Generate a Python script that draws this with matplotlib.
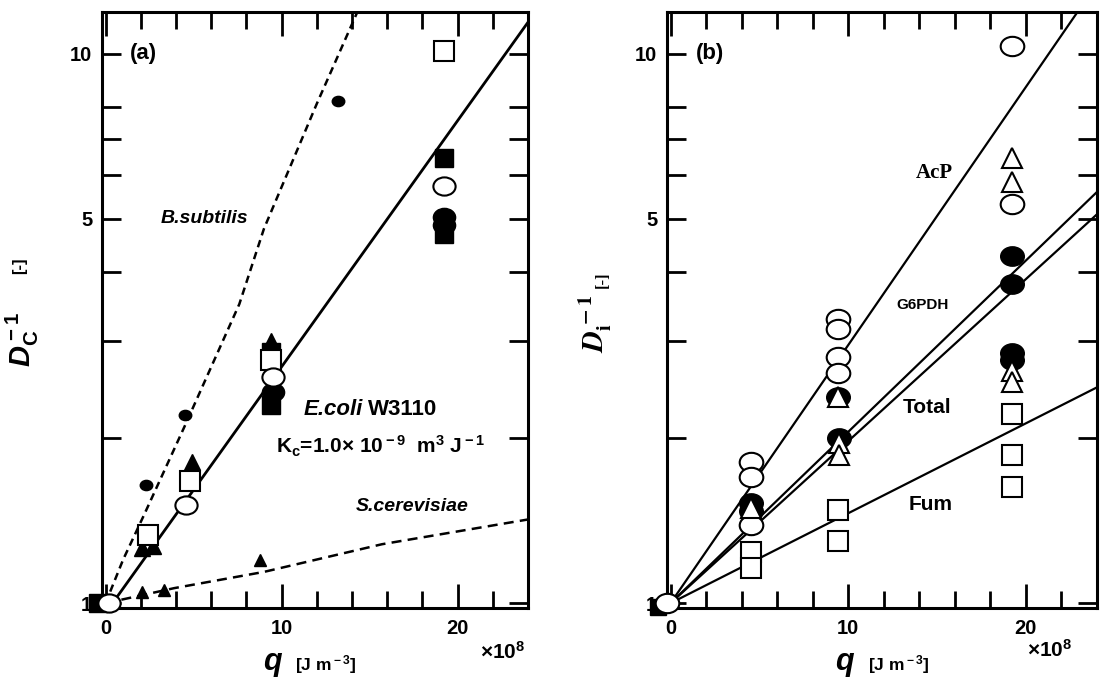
import numpy as np
import matplotlib
matplotlib.use("Agg")
import matplotlib.pyplot as plt
from matplotlib.path import Path
from matplotlib.ticker import FixedLocator, NullFormatter

plt.rcParams['font.family'] = ['Liberation Sans', 'DejaVu Sans']
plt.rcParams['font.weight'] = 'bold'
plt.rcParams['mathtext.fontset'] = 'custom'
plt.rcParams['mathtext.rm'] = 'Liberation Sans:bold'
plt.rcParams['mathtext.it'] = 'Liberation Sans:italic:bold'
plt.rcParams['mathtext.bf'] = 'Liberation Sans:bold'

# ---------------- panel (a) data : q [x1e8 J m-3], Dc^-1 ----------------
a_fsq_x = [-0.4, 9.4, 9.4, 19.2, 19.2]
a_fsq_y = [1.0, 2.87, 2.29, 6.46, 4.70]
a_osq_x = [2.4, 4.8, 9.4, 19.2]
a_osq_y = [1.33, 1.67, 2.77, 10.1]
a_oci_x = [0.2, 4.6, 9.5, 19.2]
a_oci_y = [1.0, 1.51, 2.58, 5.74]
a_fci_x = [9.5, 19.2, 19.2]
a_fci_y = [2.42, 5.05, 4.88]
a_ftr_x = [2.1, 2.7, 4.9, 9.4]
a_ftr_y = [1.26, 1.27, 1.81, 3.0]
bsub_x = [2.3, 4.5, 13.2]
bsub_y = [1.64, 2.2, 8.2]
scer_x = [2.1, 3.3, 8.8]
scer_y = [1.05, 1.055, 1.2]

ecoli_line_x = [0.4, 24.0]
ecoli_line_y = [1.0, 11.4]
bsub_line_x = [0.0, 1.0, 2.2, 4.5, 7.6, 9.0, 12.0, 14.6]
bsub_line_y = [1.0, 1.2, 1.45, 2.1, 3.5, 4.8, 8.1, 12.5]
scer_line_x = [0.0, 3.9, 9.0, 15.7, 24.0]
scer_line_y = [1.0, 1.065, 1.14, 1.28, 1.42]

# ---------------- panel (b) data : q, Di^-1 ----------------
b_oci_x = [-0.2, 4.55, 4.55, 4.55, 9.4, 9.4, 9.4, 9.4, 19.2, 19.2]
b_oci_y = [1.0, 1.81, 1.70, 1.39, 3.29, 3.15, 2.80, 2.62, 10.3, 5.33]
b_fci_x = [4.55, 4.55, 9.4, 9.5, 19.2, 19.2, 19.2, 19.2]
b_fci_y = [1.52, 1.47, 2.37, 2.0, 4.29, 3.81, 2.85, 2.77]
b_otr_x = [4.55, 9.4, 9.5, 9.5, 19.2, 19.2, 19.2, 19.2]
b_otr_y = [1.49, 2.37, 1.96, 1.86, 6.45, 5.84, 2.65, 2.53]
b_osq_x = [4.55, 4.55, 9.4, 9.4, 19.2, 19.2, 19.2]
b_osq_y = [1.24, 1.157, 1.48, 1.30, 2.21, 1.86, 1.63]
b_fsq_x = [-0.7]
b_fsq_y = [0.985]

acp_x, acp_y = [0.0, 24.0], [1.0, 13.4]
g6p_x, g6p_y = [0.0, 24.0], [1.0, 5.6]
tot_x, tot_y = [0.0, 24.0], [1.0, 5.1]
fum_x, fum_y = [0.0, 24.0], [1.0, 2.47]

# ellipse marker (circles in the scan are slightly wider than tall)
uc = Path.unit_circle()
ell = Path(uc.vertices * [1.22, 1.0], uc.codes)

W, H = 1111, 683
fig = plt.figure(figsize=(W / 100, H / 100), dpi=100)
ax1 = fig.add_axes([102 / W, 75 / H, 426 / W, 596 / H])
ax2 = fig.add_axes([667 / W, 75 / H, 430 / W, 596 / H])


def style_axes(ax):
    ax.set_yscale('log')
    ax.set_xlim(-0.2, 24)
    ax.set_ylim(0.98, 11.9)
    ax.xaxis.set_major_locator(FixedLocator([0, 10, 20]))
    ax.xaxis.set_minor_locator(FixedLocator([2, 4, 6, 8, 12, 14, 16, 18, 22]))
    ax.set_xticklabels(['0', '10', '20'])
    ax.yaxis.set_major_locator(FixedLocator([1, 5, 10]))
    ax.yaxis.set_minor_locator(FixedLocator([2, 3, 4, 6, 7, 8]))
    ax.yaxis.set_major_formatter(plt.FixedFormatter(['1', '5', '10']))
    ax.yaxis.set_minor_formatter(NullFormatter())
    ax.tick_params(which='both', direction='in', top=True, right=True,
                   width=2.0, labelsize=14.5)
    ax.tick_params(axis='x', which='major', length=17, pad=8)
    ax.tick_params(axis='x', which='minor', length=12)
    ax.tick_params(axis='y', which='both', length=14, pad=7)
    for s in ax.spines.values():
        s.set_linewidth(2.2)
    for lab in ax.get_xticklabels() + ax.get_yticklabels():
        lab.set_fontweight('bold')


style_axes(ax1)
style_axes(ax2)

kw_open = dict(linestyle='none', mfc='white', mec='black', mew=1.5, clip_on=False, zorder=4)
kw_fill = dict(linestyle='none', mfc='black', mec='black', mew=1.0, clip_on=False, zorder=3)

# ---- panel (a)
ax1.plot(ecoli_line_x, ecoli_line_y, color='black', lw=2.0, zorder=2)
ax1.plot(bsub_line_x, bsub_line_y, color='black', lw=1.8, ls=(0, (3, 2)), zorder=2)
ax1.plot(scer_line_x, scer_line_y, color='black', lw=1.8, ls=(0, (4, 2.5)), zorder=2)

ax1.plot(a_fsq_x, a_fsq_y, marker='s', ms=13, **kw_fill)
ax1.plot(a_fci_x, a_fci_y, marker=ell, ms=16, **kw_fill)
ax1.plot(a_ftr_x, a_ftr_y, marker='^', ms=12, **kw_fill)
ax1.plot(bsub_x, bsub_y, marker=ell, ms=9, **kw_fill)
ax1.plot(scer_x, scer_y, marker='^', ms=8, **kw_fill)
ax1.plot(a_osq_x, a_osq_y, marker='s', ms=14, **kw_open)
ax1.plot(a_oci_x, a_oci_y, marker=ell, ms=16, **kw_open)

ax1.text(1.4, 10.0, '(a)', fontsize=16, fontweight='bold', ha='left', va='center')
ax1.text(5.6, 5.0, 'B.subtilis', fontsize=14, fontweight='bold', style='italic',
         ha='center', va='center')
ax1.text(14.6, 2.25, 'E.coli', fontsize=16, fontweight='bold', style='italic',
         ha='right', va='center')
ax1.text(14.9, 2.25, 'W3110', fontsize=16, fontweight='bold', ha='left', va='center')
ax1.text(15.6, 1.93, r'K$_{\rm c}$=1.0$\times$ 10$^{\rm -9}$  m$^{\rm 3}$ J$^{\rm -1}$',
         fontsize=15, ha='center', va='center')
ax1.text(17.4, 1.5, 'S.cerevisiae', fontsize=14, fontweight='bold', style='italic',
         ha='center', va='center')

# ---- panel (b)
for lx, ly in [(acp_x, acp_y), (g6p_x, g6p_y), (tot_x, tot_y), (fum_x, fum_y)]:
    ax2.plot(lx, ly, color='black', lw=1.6, zorder=2)

ax2.plot(b_fsq_x, b_fsq_y, marker='s', ms=11, **kw_fill)
ax2.plot(b_fci_x, b_fci_y, marker=ell, ms=17, **kw_fill)
ax2.plot(b_osq_x, b_osq_y, marker='s', ms=15, **kw_open)
ax2.plot(b_oci_x, b_oci_y, marker=ell, ms=17, **kw_open)
ax2.plot(b_otr_x, b_otr_y, marker='^', ms=14, **kw_open)

ax2.text(1.4, 10.0, '(b)', fontsize=16, fontweight='bold', ha='left', va='center')
ax2.text(14.85, 6.06, 'AcP', fontsize=15, fontweight='bold', family='Liberation Serif',
         ha='center', va='center')
ax2.text(14.2, 3.48, 'G6PDH', fontsize=11, fontweight='bold', ha='center', va='center')
ax2.text(14.45, 2.27, 'Total', fontsize=15, fontweight='bold', ha='center', va='center')
ax2.text(14.65, 1.51, 'Fum', fontsize=15, fontweight='bold', ha='center', va='center')

# ---- axis titles (placed in figure pixels)
def ftxt(px, py, s, **kw):
    fig.text(px / W, 1 - py / H, s, **kw)


ftxt(22, 340, r'$\it{D}_{\rm C}^{\rm -1}$', fontsize=21, rotation=90, ha='center', va='center')
ftxt(20, 266, '[-]', fontsize=12, rotation=90, ha='center', va='center')
ftxt(595, 324, r'$\it{D}_{\rm i}^{\rm -1}$', fontsize=21, rotation=90, ha='center',
     va='center', math_fontfamily='stix')
ftxt(603, 280, '[-]', fontsize=12, rotation=90, ha='center', va='center',
     family='Liberation Serif')

ftxt(273, 670, r'$\it{q}$', fontsize=22, ha='center', va='baseline')
ftxt(295, 670, r'[J m$^{\rm -3}$]', fontsize=12.5, ha='left', va='baseline')
ftxt(503, 652, r'$\times$10$^{\rm 8}$', fontsize=15, ha='center', va='center')

ftxt(845, 670, r'$\it{q}$', fontsize=22, ha='center', va='baseline')
ftxt(868, 670, r'[J m$^{\rm -3}$]', fontsize=12.5, ha='left', va='baseline')
ftxt(1050, 650, r'$\times$10$^{\rm 8}$', fontsize=15, ha='center', va='center')

fig.savefig('out.png', dpi=100)
